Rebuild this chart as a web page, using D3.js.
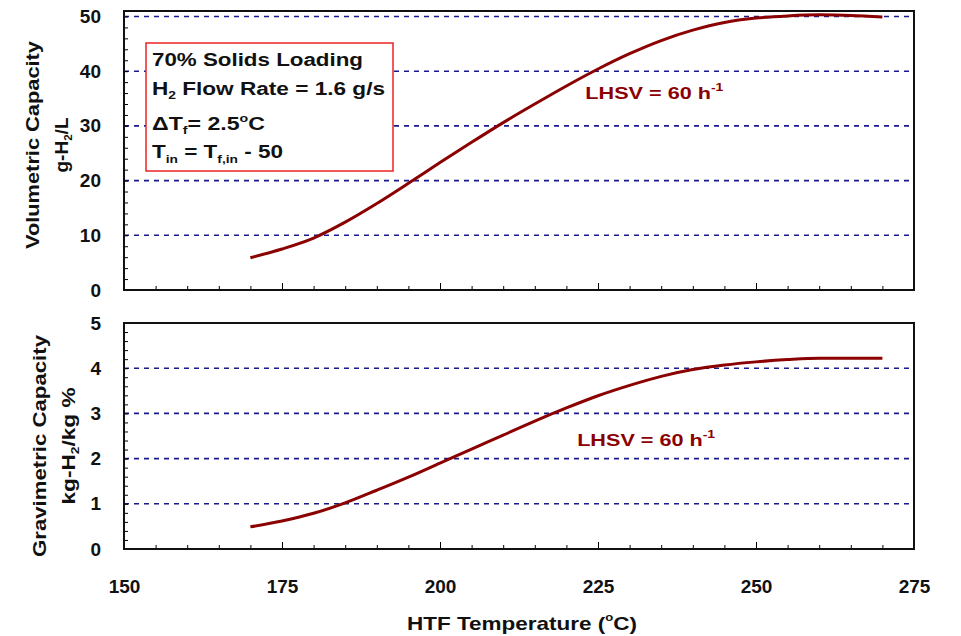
<!DOCTYPE html>
<html>
<head>
<meta charset="utf-8">
<script src="https://cdn.jsdelivr.net/npm/d3@7"></script>
<style>
  body { margin: 0; background: #fff; }
  text { font-family: Arial, "Liberation Sans", sans-serif; font-weight: bold; }
</style>
</head>
<body>
<div class="chart"></div>
<script>
// HTF temperature (C)
const temps = [170, 175, 180, 185, 190, 195, 200, 205, 210, 215, 220, 225, 230, 235, 240, 245, 250, 255, 260, 265, 270];
// volumetric capacity g-H2/L
const volCap = [5.9, 7.5, 9.5, 12.4, 15.8, 19.5, 23.3, 27.0, 30.6, 34.0, 37.3, 40.4, 43.2, 45.6, 47.5, 48.9, 49.7, 50.1, 50.3, 50.2, 49.9];
// gravimetric capacity kg-H2/kg %
const gravCap = [0.49, 0.62, 0.79, 1.02, 1.30, 1.59, 1.9, 2.21, 2.52, 2.83, 3.12, 3.39, 3.62, 3.82, 3.97, 4.07, 4.14, 4.19, 4.22, 4.22, 4.22];

const xTicks = [150, 175, 200, 225, 250, 275];
const volTicks = [0, 10, 20, 30, 40, 50];
const gravTicks = [0, 1, 2, 3, 4, 5];

const width = 961, height = 636;
const lineColor = "#8b0000", gridColor = "#1a1a8c";

const svg = d3.select(".chart").append("svg")
    .attr("width", width)
    .attr("height", height);

const x = d3.scaleLinear().domain([150, 275]).range([124, 914]);

const panels = [
    {values: volCap, ticks: volTicks, domain: [0, 51], range: [290, 11], minor: 2,
     title: "Volumetric Capacity", titleLen: 208, unit: ["g-H", "2", "/L"], unitLen: 55,
     tx: 39, ux: 68, cy: 145, label: {x: 223, y: 35}},
    {values: gravCap, ticks: gravTicks, domain: [0, 5], range: [549, 323], minor: 0.2,
     title: "Gravimetric Capacity", titleLen: 222, unit: ["kg-H", "2", "/kg %"], unitLen: 117,
     tx: 46, ux: 75, cy: 446, label: {x: 221.7, y: 2.27}}
];

panels.forEach(p => {
    const y = d3.scaleLinear().domain(p.domain).range(p.range);
    const g = svg.append("g");
    const top = p.range[1], bottom = p.range[0];

    // dashed grid
    g.selectAll(".grid").data(p.ticks.filter(t => t > 0))
        .enter().append("line")
        .attr("x1", x.range()[0]).attr("x2", x.range()[1])
        .attr("y1", d => y(d)).attr("y2", d => y(d))
        .attr("stroke", gridColor).attr("stroke-width", 1.6)
        .attr("stroke-dasharray", "5,5");

    // y axis (ticks inside)
    const yMinor = d3.range(0, p.domain[1] + 1e-6, p.minor);
    g.append("g")
        .attr("transform", `translate(${x.range()[0]},0)`)
        .call(d3.axisRight(y).tickValues(yMinor).tickSize(4).tickFormat(""))
        .call(a => a.select(".domain").remove());
    g.append("g")
        .attr("transform", `translate(${x.range()[0]},0)`)
        .call(d3.axisLeft(y).tickValues(p.ticks).tickSize(0).tickPadding(23).tickFormat(d3.format("d")))
        .call(a => a.select(".domain").remove())
        .call(a => a.selectAll("text").attr("font-size", 19).attr("fill", "#111"));

    // x axis ticks (inside)
    g.append("g")
        .attr("transform", `translate(0,${bottom})`)
        .call(d3.axisTop(x).tickValues(d3.range(150, 276, 5)).tickSize(4).tickFormat(""))
        .call(a => a.select(".domain").remove());
    g.append("g")
        .attr("transform", `translate(0,${bottom})`)
        .call(d3.axisTop(x).tickValues(xTicks).tickSize(7).tickFormat(""))
        .call(a => a.select(".domain").remove());

    // frame
    g.append("rect")
        .attr("x", x.range()[0]).attr("y", top)
        .attr("width", x.range()[1] - x.range()[0]).attr("height", bottom - top)
        .attr("fill", "none").attr("stroke", "#111").attr("stroke-width", 2);

    // curve
    const line = d3.line().x((d, i) => x(temps[i])).y(d => y(d)).curve(d3.curveMonotoneX);
    g.append("path").datum(p.values)
        .attr("d", line)
        .attr("fill", "none").attr("stroke", lineColor).attr("stroke-width", 3);

    // LHSV label
    const lab = g.append("text")
        .attr("x", x(p.label.x)).attr("y", y(p.label.y))
        .attr("font-size", 17).attr("fill", lineColor)
        .attr("textLength", 138).attr("lengthAdjust", "spacingAndGlyphs");
    lab.append("tspan").text("LHSV = 60 h");
    lab.append("tspan").attr("dy", -8).attr("font-size", 11).text("-1");

    // y titles
    g.append("text")
        .attr("transform", `translate(${p.tx},${p.cy}) rotate(-90)`)
        .attr("text-anchor", "middle").attr("font-size", 18).attr("fill", "#111")
        .attr("textLength", p.titleLen).attr("lengthAdjust", "spacingAndGlyphs")
        .text(p.title);
    const ut = g.append("text")
        .attr("transform", `translate(${p.ux},${p.cy}) rotate(-90)`)
        .attr("text-anchor", "middle").attr("font-size", 18).attr("fill", "#111")
        .attr("textLength", p.unitLen).attr("lengthAdjust", "spacingAndGlyphs");
    ut.append("tspan").text(p.unit[0]);
    ut.append("tspan").attr("dy", 4).attr("font-size", 11).text(p.unit[1]);
    ut.append("tspan").attr("dy", -4).text(p.unit[2]);
});

// x tick labels and title
svg.append("g")
    .attr("transform", "translate(0,549)")
    .call(d3.axisBottom(x).tickValues(xTicks).tickSize(0).tickPadding(31).tickFormat(d3.format("d")))
    .call(a => a.select(".domain").remove())
    .call(a => a.selectAll("text").attr("font-size", 19).attr("fill", "#111"));

const xt = svg.append("text")
    .attr("x", 522).attr("y", 630)
    .attr("text-anchor", "middle").attr("font-size", 19).attr("fill", "#111")
    .attr("textLength", 230).attr("lengthAdjust", "spacingAndGlyphs");
xt.append("tspan").text("HTF Temperature (");
xt.append("tspan").attr("dy", -9).attr("font-size", 11).text("o");
xt.append("tspan").attr("dy", 9).text("C)");

// conditions box
const box = svg.append("g").attr("transform", "translate(146,43)");
box.append("rect")
    .attr("width", 247).attr("height", 128)
    .attr("fill", "#fff").attr("stroke", "#ee2222").attr("stroke-width", 1.5);

const bt = (yy, len) => box.append("text").attr("x", 6).attr("y", yy)
    .attr("font-size", 18).attr("fill", "#111")
    .attr("textLength", len).attr("lengthAdjust", "spacingAndGlyphs");
bt(23, 211).text("70% Solids Loading");
const l2 = bt(52, 233);
l2.append("tspan").text("H");
l2.append("tspan").attr("dy", 4).attr("font-size", 11).text("2");
l2.append("tspan").attr("dy", -4).text(" Flow Rate = 1.6 g/s");
const l3 = bt(87, 113);
l3.append("tspan").text("\u0394T");
l3.append("tspan").attr("dy", 4).attr("font-size", 11).text("f");
l3.append("tspan").attr("dy", -4).text("= 2.5");
l3.append("tspan").attr("dy", -8).attr("font-size", 11).text("o");
l3.append("tspan").attr("dy", 8).text("C");
const l4 = bt(115, 131);
l4.append("tspan").text("T");
l4.append("tspan").attr("dy", 5).attr("font-size", 11).text("in");
l4.append("tspan").attr("dy", -5).text(" = T");
l4.append("tspan").attr("dy", 5).attr("font-size", 11).text("f,in");
l4.append("tspan").attr("dy", -5).text(" - 50");
</script>
</body>
</html>
